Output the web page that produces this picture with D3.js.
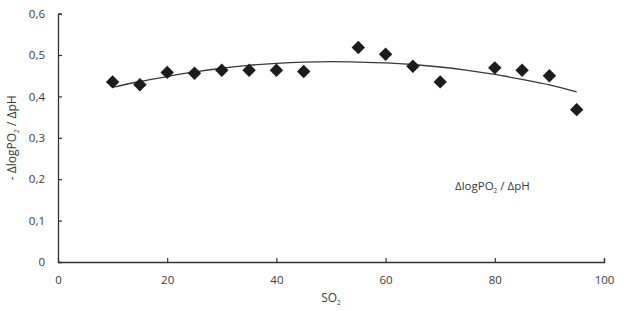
<!DOCTYPE html>
<html>
<head>
<meta charset="utf-8">
<script src="https://cdn.jsdelivr.net/npm/d3@7"></script>
<style>
  body { margin: 0; background: #fff; }
  svg text { font-family: "Open Sans", "DejaVu Sans", sans-serif; fill: #3a3a3a; }
</style>
</head>
<body>
<div id="chart"></div>
<script>
// measured points
const so2 = [10, 15, 20, 25, 30, 35, 40, 45, 55, 60, 65, 70, 80, 85, 90, 95];
const ratio = [0.435, 0.428, 0.458, 0.456, 0.463, 0.463, 0.463, 0.460, 0.518, 0.502, 0.473, 0.435, 0.469, 0.463, 0.450, 0.368];

// trend line
const trendX = [10, 15, 20, 25, 30, 35, 40, 45, 50, 55, 60, 65, 70, 75, 80, 85, 90, 95];
const trendY = [0.422, 0.436, 0.448, 0.459, 0.468, 0.475, 0.480, 0.483, 0.484, 0.483, 0.481, 0.477, 0.471, 0.463, 0.453, 0.441, 0.428, 0.411];

const xTicks = [0, 20, 40, 60, 80, 100];
const yTicks = [0, 0.1, 0.2, 0.3, 0.4, 0.5, 0.6];

(() => {
    const width = 624, height = 311;
    const margin = { top: 13.6, right: 20, bottom: 49, left: 58 };

    const svg = d3.select("#chart").append("svg")
        .attr("width", width)
        .attr("height", height);

    const x = d3.scaleLinear().domain([0, 100]).range([margin.left, 604]);
    const y = d3.scaleLinear().domain([0, 0.6]).range([262, margin.top]);

    const fmt = d => d === 0 ? "0" : d3.format(".1f")(d).replace(".", ",");

    // axes - ticks point inward
    const xAxis = svg.append("g")
        .attr("transform", `translate(0,${y(0)})`)
        .call(d3.axisBottom(x).tickValues(xTicks).tickSize(-4).tickPadding(14).tickFormat(d => d));
    const yAxis = svg.append("g")
        .attr("transform", `translate(${x(0)},0)`)
        .call(d3.axisLeft(y).tickValues(yTicks).tickSize(-4).tickPadding(13).tickFormat(fmt));

    [xAxis, yAxis].forEach(g => {
        g.select(".domain").attr("stroke", "#333").attr("stroke-width", 1.3);
        g.selectAll(".tick line").attr("stroke", "#333").attr("stroke-width", 1.2);
        g.selectAll(".tick text").style("font-size", "11.5px").attr("fill", "#3a3a3a");
    });
    // remove tick at the origin overlapping the axes
    xAxis.selectAll(".tick").filter(d => d === 0).select("line").remove();
    yAxis.selectAll(".tick").filter(d => d === 0).select("line").remove();

    // trend line
    const line = d3.line()
        .x((d, i) => x(trendX[i]))
        .y(d => y(d))
        .curve(d3.curveMonotoneX);
    svg.append("path")
        .datum(trendY)
        .attr("d", line)
        .attr("fill", "none")
        .attr("stroke", "#3a3a3a")
        .attr("stroke-width", 1.3);

    // diamonds
    const diamond = d3.symbol().type(d3.symbolSquare).size(90);
    svg.selectAll(".pt")
        .data(ratio)
        .enter()
        .append("path")
        .attr("class", "pt")
        .attr("d", diamond)
        .attr("transform", (d, i) => `translate(${x(so2[i])},${y(d)}) rotate(45)`)
        .attr("fill", "#1c1c1c");

    // labels
    const yl = svg.append("text")
        .attr("transform", `translate(16,${(y(0) + y(0.6)) / 2}) rotate(-90)`)
        .attr("text-anchor", "middle")
        .style("font-size", "12px");
    yl.append("tspan").text("- ΔlogPO");
    yl.append("tspan").text("2").attr("dy", 3).style("font-size", "6.5px");
    yl.append("tspan").text(" / ΔpH").attr("dy", -3);

    const xl = svg.append("text")
        .attr("x", (x(0) + x(100)) / 2)
        .attr("y", 302)
        .attr("text-anchor", "middle")
        .style("font-size", "12px");
    xl.append("tspan").text("SO");
    xl.append("tspan").text("2").attr("dy", 3).style("font-size", "6.5px");

    const note = svg.append("text")
        .attr("x", 455)
        .attr("y", 190)
        .style("font-size", "11.5px");
    note.append("tspan").text("ΔlogPO");
    note.append("tspan").text("2").attr("dy", 3).style("font-size", "6.5px");
    note.append("tspan").text(" / ΔpH").attr("dy", -3);
})();
</script>
</body>
</html>
